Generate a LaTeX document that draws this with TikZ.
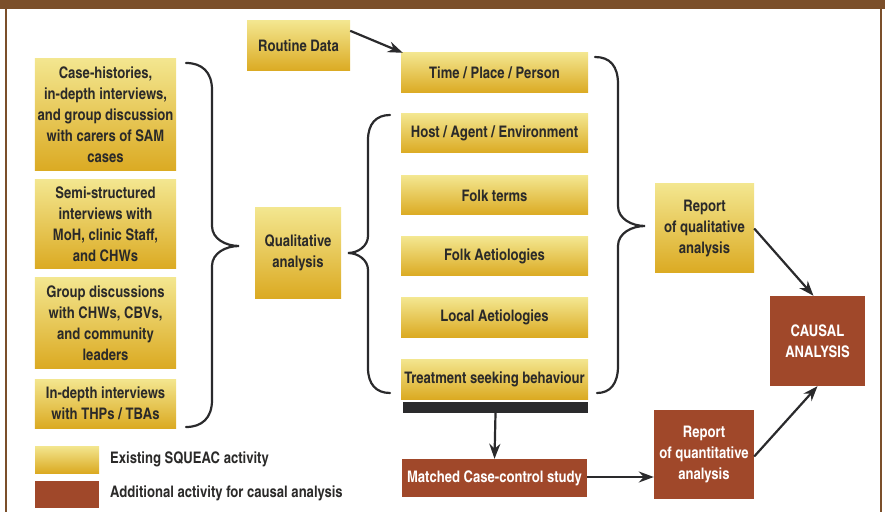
\documentclass[tikz,border=0pt]{standalone}
\usepackage{fontspec}
\setmainfont{texgyreheroscn}[Extension=.otf, UprightFont=*-bold]
\usetikzlibrary{arrows.meta}
\definecolor{ytop}{HTML}{F3E68F}
\definecolor{ybot}{HTML}{DBAA22}
\definecolor{brn}{HTML}{A0482A}
\definecolor{frm}{HTML}{7B4F2A}
\definecolor{txt}{HTML}{2B2A29}
\definecolor{lnc}{HTML}{2A2A2C}
\tikzset{
  ybox/.style={top color=ytop, bottom color=ybot, draw=none, inner sep=0pt, align=center, text=txt,
    font=\fontsize{16}{21}\selectfont},
  bbox/.style={fill=brn, draw=none, inner sep=0pt, align=center, text=white,
    font=\fontsize{16}{21}\selectfont},
  lbl/.style={inner sep=0pt, anchor=west, text=txt, font=\fontsize{16}{21}\selectfont},
  arr/.style={draw=lnc, line width=2.2bp, -{Stealth[length=15bp,width=11bp]}},
  brace/.style={draw=lnc, line width=2.2bp, line cap=round},
}
\begin{document}
\begin{tikzpicture}[x=1bp,y=-1bp]
\useasboundingbox (0,0) rectangle (885,512);
% frame
\fill[frm] (0,0) rectangle (885,9.5);
\draw[frm, line width=2bp] (6,9) -- (6,512);
\draw[frm, line width=2bp] (881,9) -- (881,512);
% left column
\node[ybox, minimum width=141bp, minimum height=112bp] (c1) at (105.5,115) {Case-histories,\\in-depth interviews,\\and group discussion\\with carers of SAM\\cases};
\node[ybox, minimum width=141bp, minimum height=89bp] (c2) at (105.5,224.5) {Semi-structured\\interviews with\\MoH, clinic Staff,\\and CHWs};
\node[ybox, minimum width=141bp, minimum height=90bp] (c3) at (105.5,323) {Group discussions\\with CHWs, CBVs,\\and community\\leaders};
\node[ybox, minimum width=141bp, minimum height=49bp] (c4) at (105.5,403.5) {In-depth interviews\\with THPs / TBAs};
% legend
\node[ybox, minimum width=64bp, minimum height=27bp] (leg1) at (67,459.5) {};
\node[bbox, minimum width=64bp, minimum height=27bp] (leg2) at (67,494.5) {};
\node[lbl] (legt1) at (110,459) {Existing SQUEAC activity};
\node[lbl] (legt2) at (110,493) {Additional activity for causal analysis};
% middle
\node[ybox, minimum width=86bp, minimum height=90bp] (qa) at (298,253) {Qualitative\\analysis};
\node[ybox, minimum width=103bp, minimum height=50bp] (rd) at (298.5,46) {Routine Data};
\node[ybox, minimum width=187bp, minimum height=40bp] (tpp) at (494.5,73) {Time / Place / Person};
\node[ybox, minimum width=187bp, minimum height=39bp] (hae) at (494.5,133.5) {Host / Agent / Environment};
\node[ybox, minimum width=187bp, minimum height=39bp] (ft) at (494.5,195.5) {Folk terms};
\node[ybox, minimum width=187bp, minimum height=39bp] (fa) at (494.5,256.5) {Folk Aetiologies};
\node[ybox, minimum width=187bp, minimum height=39bp] (la) at (494.5,317.5) {Local Aetiologies};
\node[ybox, minimum width=187bp, minimum height=40bp] (tsb) at (494.5,379) {Treatment seeking behaviour};
\node[fill=lnc, inner sep=0pt, minimum width=185bp, minimum height=11bp] (bar) at (495.5,407.5) {};
\node[bbox, minimum width=185bp, minimum height=38bp] (mcc) at (494.5,478) {Matched Case-control study};
% right
\node[ybox, minimum width=99bp, minimum height=89bp] (rql) at (704.5,228.5) {Report\\of qualitative\\analysis};
\node[bbox, minimum width=100bp, minimum height=89bp] (rqn) at (704,454.5) {Report\\of quantitative\\analysis};
\node[bbox, minimum width=95bp, minimum height=90bp] (ca) at (817.5,341) {CAUSAL\\ANALYSIS};
% braces
\draw[brace] (186,63) .. controls (202,63) and (212,72) .. (212,90) -- (212,226)
  .. controls (212,239) and (226,246) .. (239,246) .. controls (226,246) and (212,253) .. (212,266)
  -- (212,400) .. controls (212,418) and (202,427) .. (186,427);
\draw[brace] (390,115) .. controls (376,115) and (368,124) .. (368,140) -- (368,236)
  .. controls (368,246) and (358,253) .. (348,253) .. controls (358,253) and (368,260) .. (368,270)
  -- (368,368) .. controls (368,384) and (376,393) .. (390,393);
\draw[brace] (595,57) .. controls (610,57) and (618,66) .. (618,84) -- (618,206)
  .. controls (618,219) and (632,226) .. (645,226) .. controls (632,226) and (618,233) .. (618,246)
  -- (618,366) .. controls (618,384) and (610,393) .. (597,393);
% arrows
\draw[arr] ([yshift=-10bp]rd.north east) -- ([xshift=2bp]tpp.north west);
\draw[arr] (bar.south) -- (mcc.north);
\draw[arr] ([yshift=1bp]mcc.east) -- ([yshift=1bp]mcc.east -| rqn.west);
\draw[arr] (rql.east) -- ([xshift=-4bp]ca.north);
\draw[arr] ([yshift=-2bp]rqn.east) -- (ca.south);
\end{tikzpicture}
\end{document}
